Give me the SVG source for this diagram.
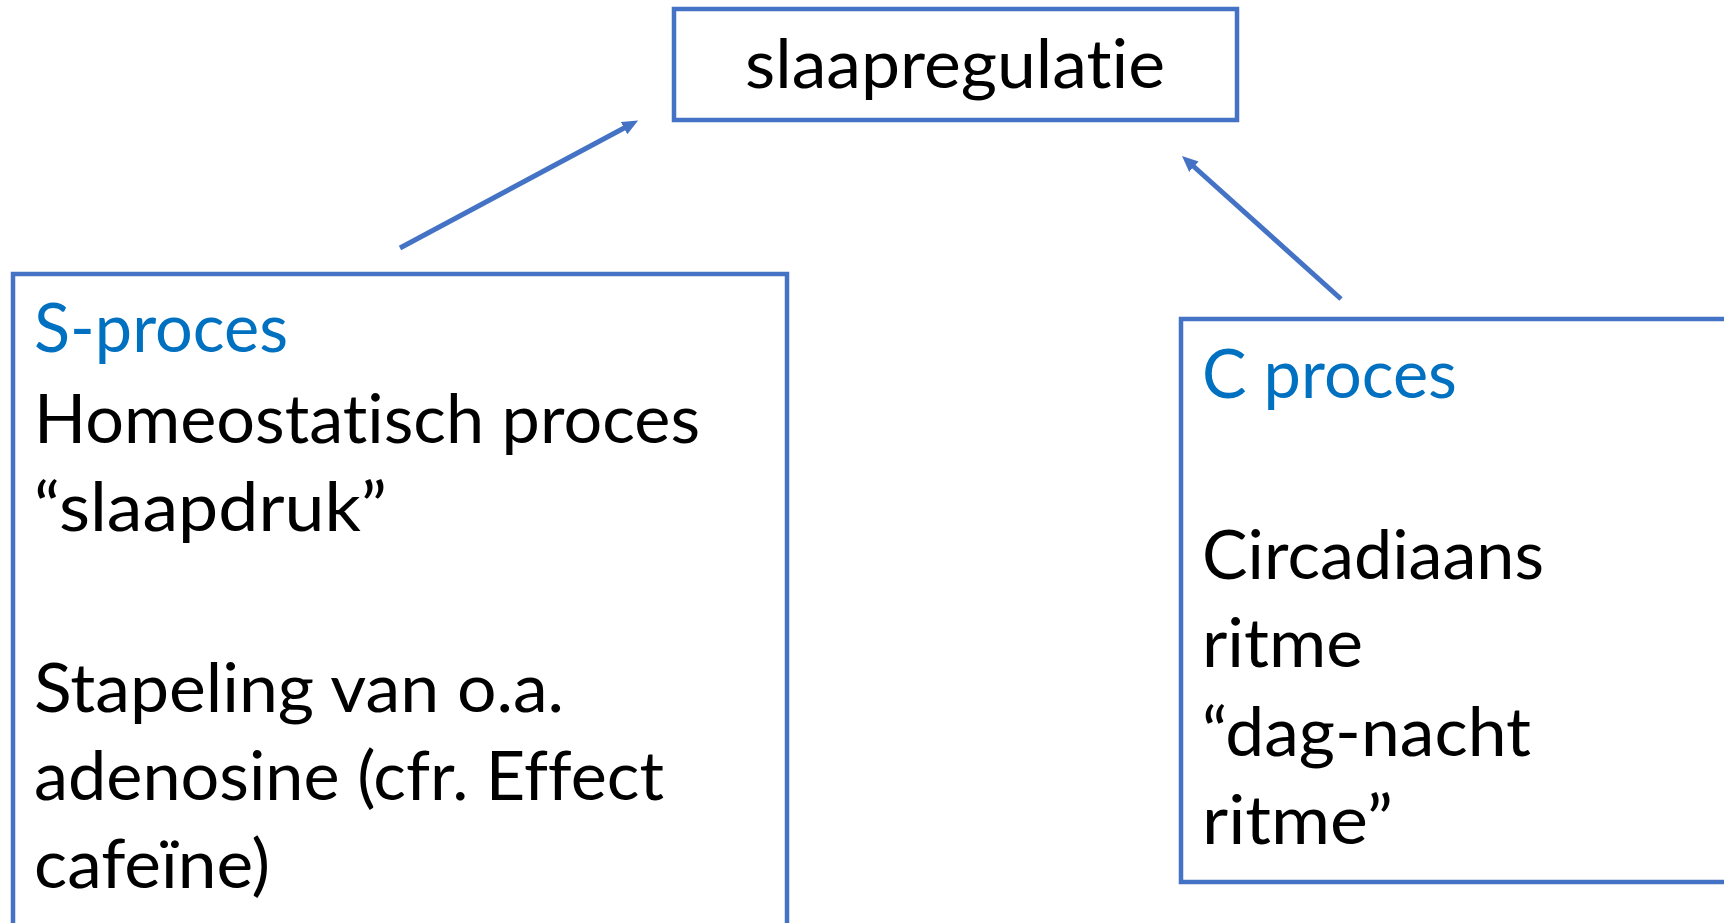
<svg xmlns="http://www.w3.org/2000/svg" width="1724" height="923" viewBox="0 0 1724 923">
<style>
.box{fill:#ffffff;stroke:#4472C4;stroke-width:4.5}
.t{font-family:Lato,"Open Sans","Liberation Sans",sans-serif;font-size:67px;fill:#000000;font-variant-ligatures:none;font-feature-settings:"liga" 0,"clig" 0}
.h{fill:#0070C0}
.conn{stroke:#4472C4;stroke-width:5;fill:none}
</style>
<defs>
<marker id="arr" viewBox="0 0 16 14" refX="7" refY="7" markerWidth="16" markerHeight="14" markerUnits="userSpaceOnUse" orient="auto">
<path d="M0,0 L16,7 L0,14 Z" fill="#4472C4"/>
</marker>
</defs>
<rect width="1724" height="923" fill="#ffffff"/>
<g id="node-slaapregulatie">
<rect class="box" x="674" y="9" width="563" height="111"/>
<text class="t" x="745" y="88" textLength="420" lengthAdjust="spacingAndGlyphs">slaapregulatie</text>
</g>
<g id="node-s-proces">
<rect class="box" x="13" y="274" width="774" height="680"/>
<text class="t h" x="34" y="352" textLength="254" lengthAdjust="spacingAndGlyphs">S-proces</text>
<text class="t" x="34" y="443" textLength="666" lengthAdjust="spacingAndGlyphs">Homeostatisch proces</text>
<text class="t" x="34" y="531" textLength="353" lengthAdjust="spacingAndGlyphs">“slaapdruk”</text>
<text class="t" x="34" y="712" textLength="530" lengthAdjust="spacingAndGlyphs">Stapeling van o.a.</text>
<text class="t" x="34" y="800" textLength="630" lengthAdjust="spacingAndGlyphs">adenosine (cfr. Effect</text>
<text class="t" x="34" y="888" textLength="236" lengthAdjust="spacingAndGlyphs">cafeïne)</text>
</g>
<g id="node-c-proces">
<rect class="box" x="1181" y="319" width="600" height="563"/>
<text class="t h" x="1202" y="398" textLength="255" lengthAdjust="spacingAndGlyphs">C proces</text>
<text class="t" x="1202" y="579" textLength="342" lengthAdjust="spacingAndGlyphs">Circadiaans</text>
<text class="t" x="1202" y="667" textLength="161" lengthAdjust="spacingAndGlyphs">ritme</text>
<text class="t" x="1202" y="756" textLength="329" lengthAdjust="spacingAndGlyphs">“dag-nacht</text>
<text class="t" x="1202" y="844" textLength="191" lengthAdjust="spacingAndGlyphs">ritme”</text>
</g>
<g id="connectors">
<line class="conn" x1="400" y1="248" x2="630.2" y2="124.8" marker-end="url(#arr)"/>
<line class="conn" x1="1341" y1="299" x2="1188.7" y2="162" marker-end="url(#arr)"/>
</g>
</svg>
